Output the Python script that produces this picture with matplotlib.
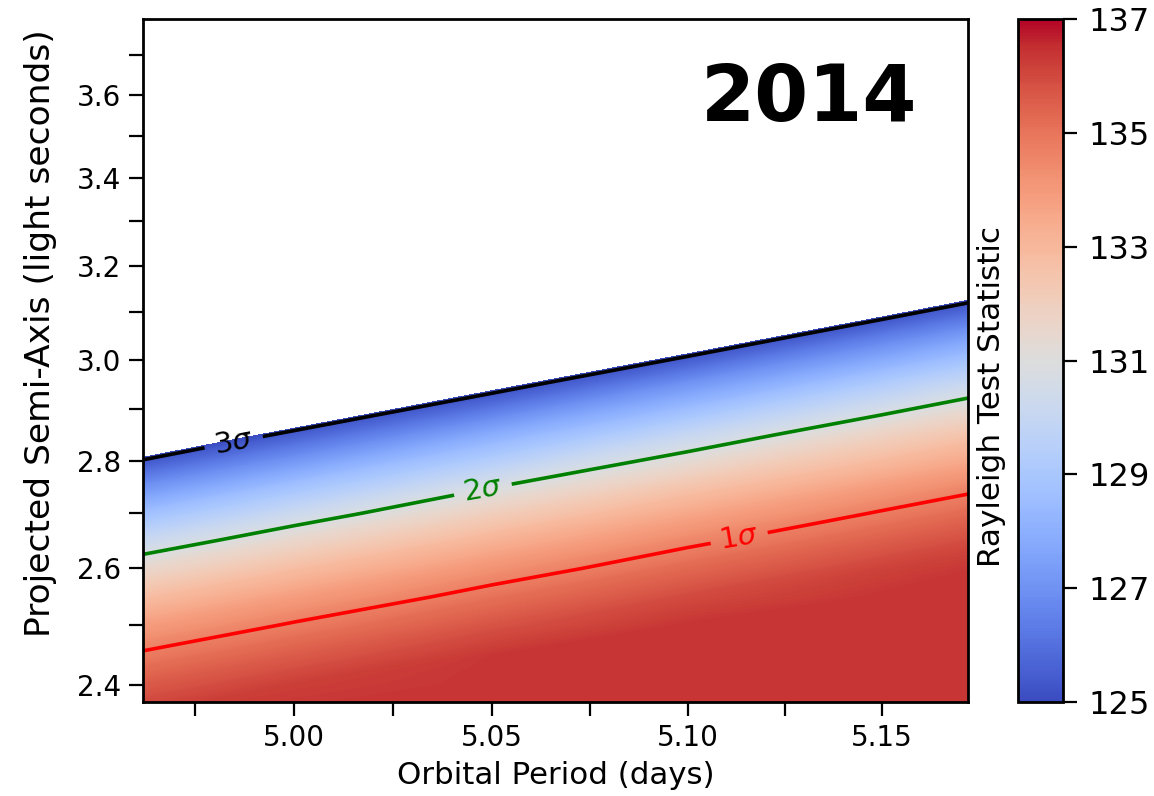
import numpy as np
import matplotlib
matplotlib.use("Agg")
import matplotlib.pyplot as plt
from matplotlib.ticker import FixedLocator, FixedFormatter, NullLocator

# ---- data ----
periods = [4.96, 5.00, 5.05, 5.10, 5.15, 5.18]            # orbital period (days)
semi_axes = [2.35, 2.40, 2.45, 2.50, 2.55, 2.60, 2.65, 2.70, 2.75,
             2.85, 2.95, 3.05, 3.15, 3.25, 3.80]          # light seconds
rayleigh_ts = [
    [136.22, 136.40, 136.40, 136.40, 136.40, 136.40],
    [135.59, 136.22, 136.40, 136.40, 136.40, 136.40],
    [134.78, 135.59, 136.35, 136.40, 136.40, 136.40],
    [133.81, 134.81, 135.78, 136.40, 136.40, 136.40],
    [132.70, 133.87, 135.06, 135.96, 136.40, 136.40],
    [131.44, 132.78, 134.19, 135.30, 136.13, 136.40],
    [130.05, 131.56, 133.18, 134.50, 135.53, 136.02],
    [128.53, 130.21, 132.03, 133.56, 134.79, 135.40],
    [126.90, 128.74, 130.77, 132.49, 133.92, 134.65],
    [123.31, 125.47, 127.88, 130.00, 131.82, 132.77],
    [119.32, 121.79, 124.59, 127.08, 129.27, 130.45],
    [114.99, 117.75, 120.92, 123.77, 126.32, 127.71],
    [110.34, 113.39, 116.91, 120.12, 123.02, 124.62],
    [105.41, 108.74, 112.61, 116.15, 119.39, 121.19],
    [74.50, 79.20, 84.80, 90.10, 95.00, 97.80],
]
sigma_levels = [125.17, 130.82, 134.70]
sigma_labels = [r'3$\sigma$', r'2$\sigma$', r'1$\sigma$']
sigma_colors = ['black', 'green', 'red']
label_periods = [4.9847, 5.0478, 5.1131]
label_axes = [2.84, 2.74, 2.66]

cbar_ticks = [125, 127, 129, 131, 133, 135, 137]
x_ticks = [4.975, 5.00, 5.025, 5.05, 5.075, 5.10, 5.125, 5.15]
x_ticklabels = ['', '5.00', '', '5.05', '', '5.10', '', '5.15']
y_ticks = [2.4, 2.5, 2.6, 2.7, 2.8, 2.9, 3.0, 3.1, 3.2, 3.3, 3.4, 3.5, 3.6, 3.7]
y_ticklabels = ['2.4', '', '2.6', '', '2.8', '', '3.0', '', '3.2', '', '3.4', '', '3.6', '']

# ---- figure ----
fig = plt.figure(figsize=(11.54, 7.96), dpi=100)
ax = fig.add_axes([0.1239, 0.1181, 0.7149, 0.8580])
cax = fig.add_axes([0.8821, 0.1181, 0.0390, 0.8580])

P, A = np.meshgrid(periods, semi_axes)
Z = np.array(rayleigh_ts)

levels = np.linspace(125, 137, 241)
cf = ax.contourf(P, A, Z, levels=levels, cmap='coolwarm', vmin=125, vmax=137)
cs = ax.contour(P, A, Z, levels=sigma_levels, colors=sigma_colors, linewidths=2.6)
fmt = {lv: lb for lv, lb in zip(sigma_levels, sigma_labels)}
ax.clabel(cs, fmt=fmt, inline=True, fontsize=21,
          manual=list(zip(label_periods, label_axes)), inline_spacing=8)

ax.set_xscale('log')
ax.set_yscale('log')
ax.set_xlim(4.9621, 5.1724)
ax.set_ylim(2.372, 3.792)

ax.xaxis.set_major_locator(FixedLocator(x_ticks))
ax.xaxis.set_major_formatter(FixedFormatter(x_ticklabels))
ax.xaxis.set_minor_locator(NullLocator())
ax.yaxis.set_major_locator(FixedLocator(y_ticks))
ax.yaxis.set_major_formatter(FixedFormatter(y_ticklabels))
ax.yaxis.set_minor_locator(NullLocator())
ax.tick_params(axis='both', direction='out', length=10, width=1.6, labelsize=20, pad=6)
for sp in ax.spines.values():
    sp.set_linewidth(2)

ax.set_xlabel('Orbital Period (days)', fontsize=22.2, labelpad=6)
ax.set_ylabel('Projected Semi-Axis (light seconds)', fontsize=24.8)
ax.yaxis.set_label_coords(-0.104, 0.540)

ax.text(0.808, 0.883, '2014', transform=ax.transAxes, ha='center', va='center',
        fontsize=56, fontweight='bold', family='DejaVu Sans')

cb = fig.colorbar(cf, cax=cax)
cb.set_ticks(cbar_ticks)
cb.set_ticklabels([str(t) for t in cbar_ticks])
cb.ax.tick_params(labelsize=23, length=10, width=1.6, pad=8)
cb.outline.set_linewidth(2)
cb.ax.yaxis.set_label_position('left')
cb.set_label('Rayleigh Test Statistic', fontsize=22.4)
cb.ax.yaxis.set_label_coords(-0.27, 0.4466)

fig.savefig('out.png', dpi=100)
